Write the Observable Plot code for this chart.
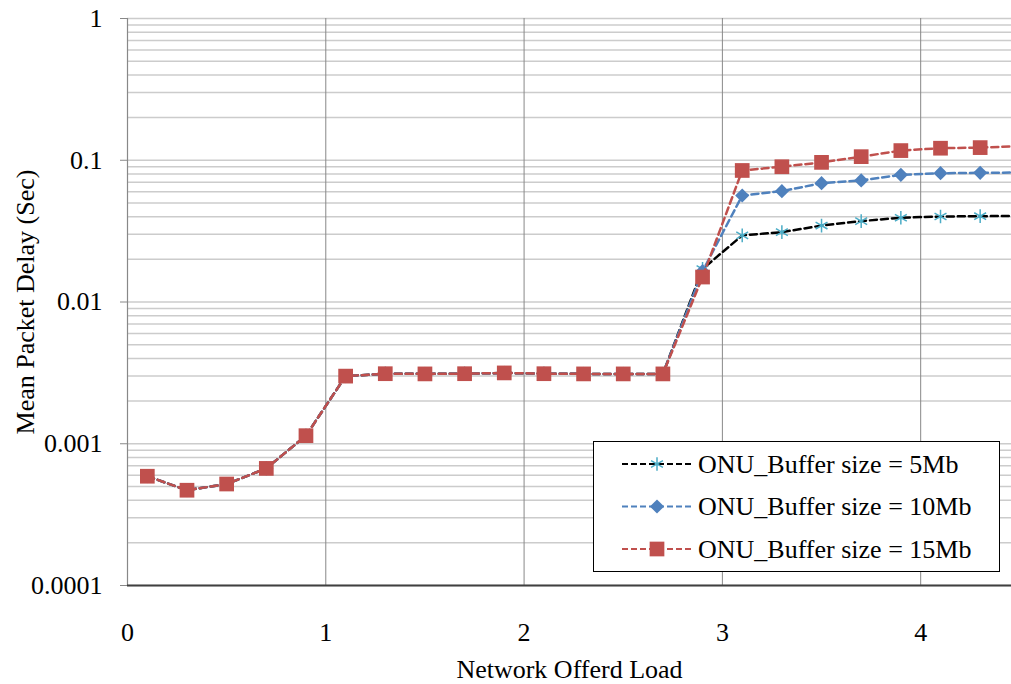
<!DOCTYPE html>
<html><head><meta charset="utf-8">
<script src="https://cdn.jsdelivr.net/npm/d3@7"></script>
<script src="https://cdn.jsdelivr.net/npm/@observablehq/plot@0.6"></script>
<style>
body{margin:0;background:#fff;}
#wrap{position:relative;width:1011px;height:684px;font-family:"Liberation Serif","Times New Roman",serif;overflow:hidden;}
#legend{position:absolute;left:593px;top:441px;width:405px;height:129px;border:1.5px solid #000;background:#fff;}
#legend svg{position:absolute;left:0;top:0;}
</style></head><body><div id="wrap"></div>
<script>
// ---- data ----
const loads = [0.1,0.3,0.5,0.7,0.9,1.1,1.3,1.5,1.7,1.9,2.1,2.3,2.5,2.7,2.9,3.1,3.3,3.5,3.7,3.9,4.1,4.3,4.5];
const delay5  = [0.00059,0.00047,0.00052,0.00067,0.00114,0.0030,0.00312,0.00311,0.00312,0.00316,0.00312,0.00311,0.00311,0.00311,0.0171,0.0295,0.0311,0.0346,0.0372,0.0393,0.0401,0.0403,0.0405];
const delay10 = [0.00059,0.00047,0.00052,0.00067,0.00114,0.0030,0.00312,0.00311,0.00312,0.00316,0.00312,0.00311,0.00311,0.00311,0.0165,0.0564,0.0605,0.0689,0.0720,0.0789,0.0810,0.0815,0.0820];
const delay15 = [0.00059,0.00047,0.00052,0.00067,0.00114,0.0030,0.00312,0.00311,0.00312,0.00316,0.00312,0.00311,0.00311,0.00311,0.0150,0.0847,0.0900,0.0966,0.1060,0.1170,0.1216,0.1228,0.1260];
const seriesNames = ["ONU_Buffer size = 5Mb","ONU_Buffer size = 10Mb","ONU_Buffer size = 15Mb"];
const yTicks = [0.0001,0.001,0.01,0.1,1];
const yTickLabels = ["0.0001","0.001","0.01","0.1","1"];
const xTicks = [0,1,2,3,4];
const xTitle = "Network Offerd Load";
const yTitle = "Mean Packet Delay (Sec)";

// ---- styles ----
const FONT = '"Liberation Serif","Times New Roman",serif';
const diamondSym = {draw(ctx, size){ const r = Math.sqrt(size) * 0.62625; ctx.moveTo(0,-r); ctx.lineTo(r,0); ctx.lineTo(0,r); ctx.lineTo(-r,0); ctx.closePath(); }};
const styles = [
  {line:"#000000", symbol:"asterisk", markFill:"none", markStroke:"#4bacc6", r:6.5},
  {line:"#4f81bd", symbol:diamondSym, markFill:"#4f81bd", markStroke:"none", r:6.4},
  {line:"#c0504d", symbol:"square", markFill:"#c0504d", markStroke:"none", r:8.3}
];
const series = [delay5, delay10, delay15].map((vals, i) => loads.map((x, j) => ({series: seriesNames[i], load: x, delay: vals[j]})));

// minor gridlines from decade ticks
const gridValues = [];
yTicks.slice(0, -1).forEach(d => { for (let k = 1; k <= 9; k++) gridValues.push(d * k); });
gridValues.push(1);

const yLabelOf = d => { const i = yTicks.findIndex(t => Math.abs(t - d) / t < 1e-9); return i >= 0 ? yTickLabels[i] : ""; };

const marks = [
  Plot.gridY(gridValues, {stroke:"#cccccc", strokeOpacity:1, strokeWidth:1.5}),
  Plot.gridX(xTicks.filter(d => d > 0), {stroke:"#888888", strokeOpacity:1, strokeWidth:1}),
  Plot.ruleX([0], {stroke:"#888888", strokeWidth:1.2}),
  Plot.ruleY([0.0001], {stroke:"#404040", strokeWidth:2}),
  Plot.axisY(yTicks, {tickSize:7, tickPadding:18, tickFormat:yLabelOf, fontSize:26, stroke:"#888888", label:null}),
  Plot.axisX(xTicks, {tickSize:0, tickPadding:37, tickFormat:d => String(d), fontSize:26, label:null}),
  Plot.text([yTitle], {frameAnchor:"left", dx:-102, rotate:-90, textAnchor:"middle", lineAnchor:"middle", fontSize:26, fill:"#000"}),
  Plot.text([xTitle], {frameAnchor:"bottom", dy:84, textAnchor:"middle", lineAnchor:"middle", fontSize:26, fill:"#000"})
];
series.forEach((s, i) => {
  const st = styles[i];
  marks.push(Plot.line(s, {x:"load", y:"delay", stroke:st.line, strokeWidth:2.5, strokeDasharray:"7,4", curve:"linear", clip:true}));
  marks.push(Plot.dot(s, {x:"load", y:"delay", symbol:st.symbol, r:st.r, fill:st.markFill, stroke:st.markStroke, strokeWidth:1.5, clip:true}));
});

const chart = Plot.plot({
  width:1011, height:684,
  marginLeft:127, marginRight:0, marginTop:18, marginBottom:99,
  style:{fontFamily:FONT, fontSize:"26px", background:"#fff", color:"#000"},
  x:{domain:[0, 4.458]},
  y:{type:"log", domain:[0.0001, 1]},
  marks
});
const wrap = document.getElementById("wrap");
wrap.appendChild(chart);

// ---- legend ----
const legend = document.createElement("div");
legend.id = "legend";
wrap.appendChild(legend);
const lsvg = d3.select(legend).append("svg").attr("width", 405).attr("height", 129);
const symbolMap = {asterisk: d3.symbolAsterisk, square: d3.symbolSquare};
seriesNames.forEach((name, i) => {
  const st = styles[i];
  const cy = 22 + i * 42.5;
  const g = lsvg.append("g").attr("transform", `translate(0,${cy})`);
  g.append("line").attr("x1", 28).attr("x2", 97).attr("y1", 0).attr("y2", 0)
    .attr("stroke", st.line).attr("stroke-width", 2).attr("stroke-dasharray", "6,3");
  const symType = typeof st.symbol === "string" ? symbolMap[st.symbol] : st.symbol;
  g.append("path").attr("transform", "translate(63,0)")
    .attr("d", d3.symbol(symType, Math.PI * st.r * st.r)())
    .attr("fill", st.markFill).attr("stroke", st.markStroke).attr("stroke-width", 1.5);
  g.append("text").attr("x", 104).attr("y", 0).attr("dy", "0.34em")
    .attr("font-family", FONT).attr("font-size", 26)
    .text(name);
});
</script>
</body></html>
